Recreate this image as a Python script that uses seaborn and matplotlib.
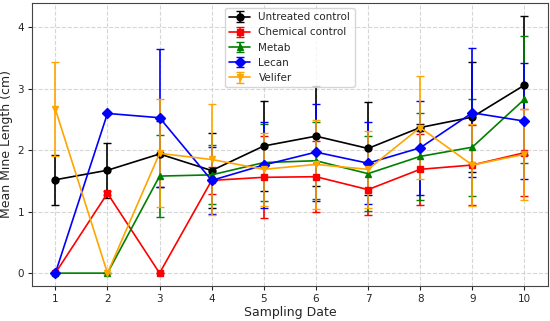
import matplotlib
matplotlib.use("Agg")
import matplotlib.pyplot as plt
import seaborn as sns

# sampling dates
dates = [1, 2, 3, 4, 5, 6, 7, 8, 9, 10]

# means
untreated = [1.52, 1.675, 1.94, 1.67, 2.07, 2.23, 2.03, 2.37, 2.54, 3.06]
chemical = [0, 1.30, 0, 1.51, 1.56, 1.57, 1.36, 1.69, 1.76, 1.96]
metab = [0, 0, 1.58, 1.60, 1.80, 1.83, 1.62, 1.90, 2.05, 2.83]
lecan = [0, 2.60, 2.53, 1.51, 1.76, 1.97, 1.79, 2.04, 2.61, 2.475]
velifer = [2.67, 0, 1.95, 1.85, 1.69, 1.77, 1.69, 2.37, 1.76, 1.935]

# error bars
untreated_err = [0.41, 0.45, 0.53, 0.61, 0.73, 0.81, 0.75, 0.05, 0.90, 1.13]
chemical_err = [0, 0.03, 0, 0.22, 0.67, 0.58, 0.41, 0.58, 0.65, 0.71]
metab_err = [0, 0, 0.67, 0.48, 0.62, 0.63, 0.61, 0.71, 0.79, 1.03]
lecan_err = [0, 0, 1.12, 0.54, 0.70, 0.79, 0.67, 0.77, 1.05, 0.95]
velifer_err = [0.76, 0, 0.88, 0.90, 0.59, 0.72, 0.63, 0.84, 0.67, 0.74]

labels = ["Untreated control", "Chemical control", "Metab", "Lecan", "Velifer"]
colors = ["black", "red", "green", "blue", "orange"]
markers = ["o", "s", "^", "D", "v"]

sns.set_style("ticks")
plt.rcParams['font.family'] = ['DejaVu Sans']

fig, ax = plt.subplots(figsize=(5.5, 3.21), dpi=100)
fig.subplots_adjust(left=0.058, right=0.996, top=0.991, bottom=0.109)

series = [
    (untreated, untreated_err),
    (chemical, chemical_err),
    (metab, metab_err),
    (lecan, lecan_err),
    (velifer, velifer_err),
]
for (vals, errs), lab, col, mk in zip(series, labels, colors, markers):
    ax.errorbar(dates, vals, yerr=errs, label=lab, color=col, marker=mk,
                markersize=5, linewidth=1.2, elinewidth=1.2, capsize=3)

ax.set_xticks(dates)
ax.set_yticks([0, 1, 2, 3, 4])
ax.tick_params(labelsize=7.5, length=3, pad=2.5)
ax.set_xlabel("Sampling Date", fontsize=9, labelpad=2)
ax.set_ylabel("Mean Mine Length (cm)", fontsize=9, labelpad=3)
ax.grid(True, linestyle="--", color="#cccccc", linewidth=0.8, alpha=0.8)
for s in ax.spines.values():
    s.set_color("#444444")
ax.legend(loc="upper center", fontsize=7.5, handlelength=2.0)

fig.savefig("out.png", dpi=100)
